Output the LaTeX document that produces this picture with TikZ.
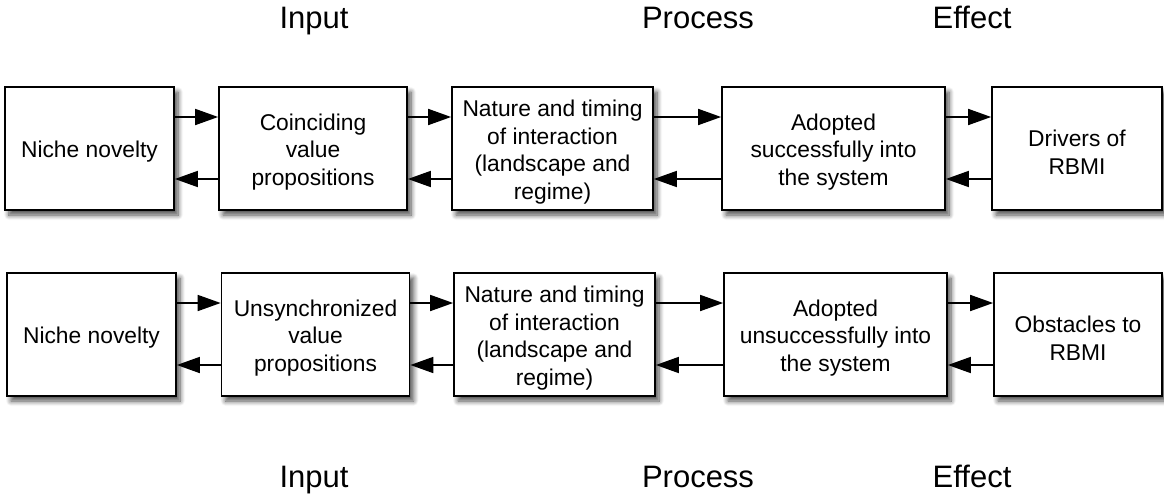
\documentclass[tikz,border=0pt]{standalone}
\usepackage{fontspec}
\setmainfont{Liberation Sans}
\usetikzlibrary{arrows.meta,shadows.blur}
\begin{document}
\begin{tikzpicture}[x=1pt,y=-1pt,
  boxnode/.style={draw=black, line width=1.7pt, fill=white, inner sep=0pt, minimum height=123pt,
    blur shadow={shadow xshift=4pt, shadow yshift=-5pt, shadow blur steps=8, shadow blur radius=5pt, shadow opacity=70}},
  boxtext/.style={align=center, font=\fontsize{22.8}{27.5}\selectfont, inner sep=0pt},
  conn/.style={line width=1.7pt, -{Triangle[length=23pt,width=16pt]}},
  header/.style={font=\fontsize{31}{34}\selectfont, anchor=base, inner sep=0pt}]
\useasboundingbox (0,0) rectangle (1164,495);
% headers
\node[header] (hin1) at (314,28.5) {Input};
\node[header] (hpr1) at (698,28.5) {Process};
\node[header] (hef1) at (972,28.5) {Effect};
\node[header] (hin2) at (314,487) {Input};
\node[header] (hpr2) at (698,487) {Process};
\node[header] (hef2) at (972,487) {Effect};
% row 1
\node[boxnode, minimum width=169pt] (a1) at (89.5,148.5) {};
\node[boxnode, minimum width=188pt] (a2) at (313,148.5) {};
\node[boxnode, minimum width=201pt] (a3) at (552.5,148.5) {};
\node[boxnode, minimum width=223pt] (a4) at (833.5,148.5) {};
\node[boxnode, minimum width=170pt] (a5) at (1077,148.5) {};
% row 2
\node[boxnode, minimum width=169pt] (b1) at (91.5,334.5) {};
\node[boxnode, minimum width=188pt] (b2) at (315.5,334.5) {};
\node[boxnode, minimum width=201pt] (b3) at (554.5,334.5) {};
\node[boxnode, minimum width=223pt] (b4) at (835.5,334.5) {};
\node[boxnode, minimum width=168pt] (b5) at (1078,334.5) {};
% texts
\node[boxtext] (a1t) at ([yshift=-3.5pt]a1.center) {Niche novelty};
\node[boxtext] (a2t) at ([yshift=-3.5pt]a2.center) {Coinciding\\value\\propositions};
\node[boxtext] (a3t) at ([yshift=-3.5pt]a3.center) {Nature and timing\\of interaction\\(landscape and\\regime)};
\node[boxtext] (a4t) at ([yshift=-3.5pt]a4.center) {Adopted\\successfully into\\the system};
\node[boxtext] (a5t) at ([yshift=-3.5pt]a5.center) {Drivers of\\RBMI};
\node[boxtext] (b1t) at ([yshift=-3.5pt]b1.center) {Niche novelty};
\node[boxtext] (b2t) at ([yshift=-3.5pt]b2.center) {Unsynchronized\\value\\propositions};
\node[boxtext] (b3t) at ([yshift=-3.5pt]b3.center) {Nature and timing\\of interaction\\(landscape and\\regime)};
\node[boxtext] (b4t) at ([yshift=-3.5pt]b4.center) {Adopted\\unsuccessfully into\\the system};
\node[boxtext] (b5t) at ([yshift=-3.5pt]b5.center) {Obstacles to\\RBMI};
% connectors
\foreach \p/\q in {a1/a2,a2/a3,a3/a4,a4/a5,b1/b2,b2/b3,b3/b4,b4/b5}{
  \draw[conn] ([yshift=31.5pt]\p.east) -- ([yshift=31.5pt]\q.west);
  \draw[conn] ([yshift=-30.5pt]\q.west) -- ([yshift=-30.5pt]\p.east);
}
\end{tikzpicture}
\end{document}
